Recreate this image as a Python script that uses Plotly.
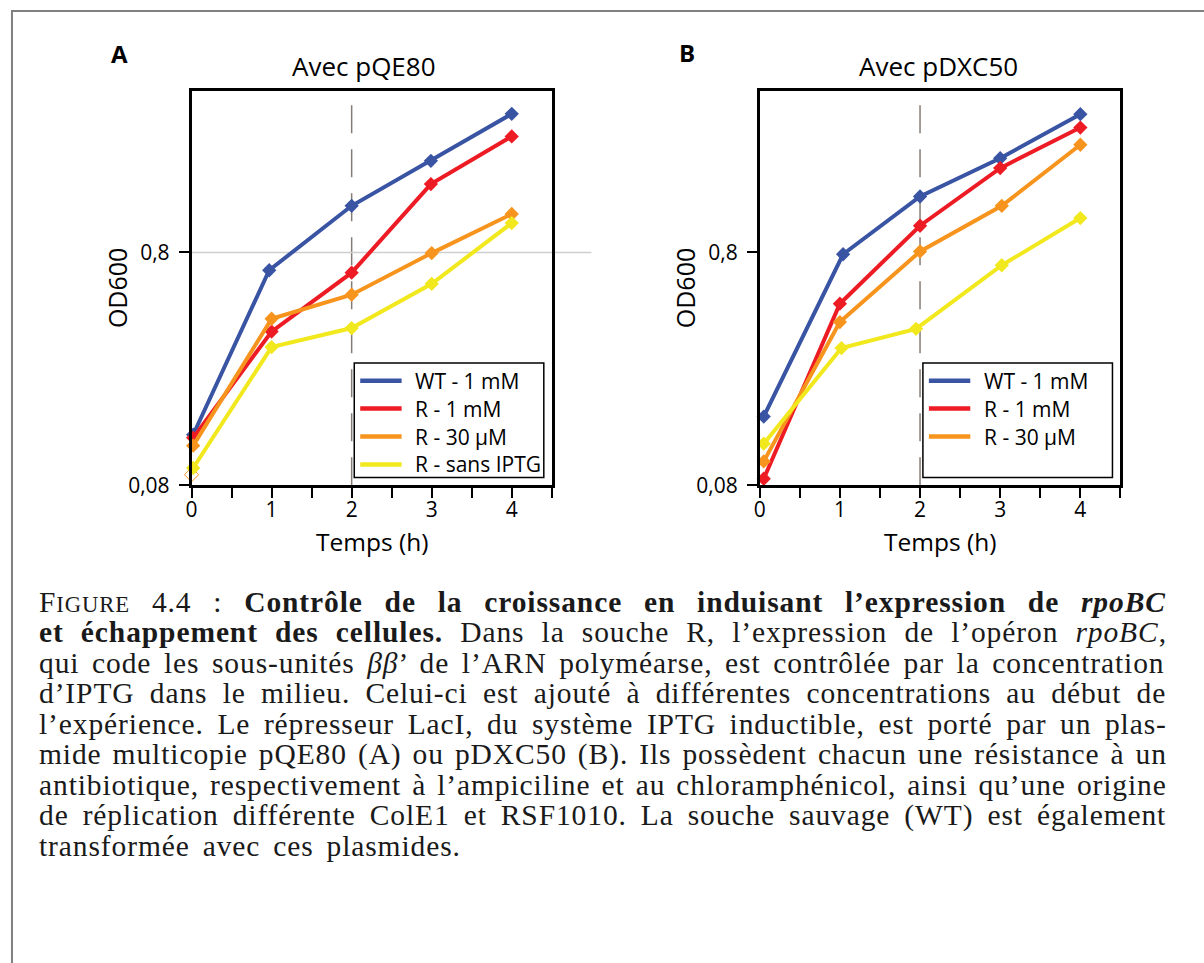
import math
import plotly.graph_objects as go

W, H = 1204, 963

# ---------------- data ----------------
series_names = ["WT - 1 mM", "R - 1 mM", "R - 30 µM", "R - sans IPTG"]
series_colors = ["#3a54a4", "#ed1c24", "#f7941d", "#f2e81e"]

# Panel A : avec pQE80
a_time_wt = [0.02, 0.97, 2.0, 2.99, 4.0]
a_od_wt = [0.132, 0.671, 1.269, 1.98, 3.15]
a_time_r1 = [0.02, 1.0, 2.0, 2.99, 4.0]
a_od_r1 = [0.128, 0.366, 0.655, 1.573, 2.52]
a_time_r30 = [0.02, 1.0, 2.0, 3.0, 4.0]
a_od_r30 = [0.1185, 0.4155, 0.527, 0.795, 1.17]
a_time_r0 = [0.02, 1.0, 2.0, 3.0, 4.0]
a_od_r0 = [0.095, 0.314, 0.379, 0.587, 1.07]
a_open_time = [0.0]
a_open_od = [0.0889]

# Panel B : avec pDXC50
b_time_wt = [0.05, 1.04, 2.0, 3.0, 4.0]
b_od_wt = [0.158, 0.786, 1.391, 2.03, 3.14]
b_time_r1 = [0.05, 1.0, 2.0, 3.0, 4.0]
b_od_r1 = [0.0854, 0.482, 1.042, 1.842, 2.75]
b_time_r30 = [0.05, 1.0, 2.0, 3.02, 4.0]
b_od_r30 = [0.1014, 0.402, 0.808, 1.269, 2.32]
b_time_r0 = [0.05, 1.02, 1.95, 3.02, 4.0]
b_od_r0 = [0.1208, 0.311, 0.376, 0.705, 1.124]

x_tick_vals = [0, 0.5, 1, 1.5, 2, 2.5, 3, 3.5, 4, 4.5]
x_tick_text = ["0", "", "1", "", "2", "", "3", "", "4", ""]
y_tick_vals = [0.08, 0.8]
y_tick_text = ["0,08", "0,8"]
x_range = [0, 4.5]
y_range = [0.08, 3.95]
induction_time = 2
grid_value = 0.8

panel_titles = ["Avec pQE80", "Avec pDXC50"]
panel_letters = ["A", "B"]
x_title = "Temps (h)"
y_title = "OD600"

caption_lines = [
    [("F", "r"), ("IGURE", "sc"), (" 4.4 : ", "r"),
     ("Contrôle de la croissance en induisant l’expression de ", "b"), ("rpoBC", "bi")],
    [("et échappement des cellules.", "b"), (" Dans la souche R, l’expression de l’opéron ", "r"),
     ("rpoBC", "i"), (",", "r")],
    [("qui code les sous-unités ", "r"), ("ββ", "i"),
     ("’ de l’ARN polyméarse, est contrôlée par la concentration", "r")],
    [("d’IPTG dans le milieu. Celui-ci est ajouté à différentes concentrations au début de", "r")],
    [("l’expérience. Le répresseur LacI, du système IPTG inductible, est porté par un plas-", "r")],
    [("mide multicopie pQE80 (A) ou pDXC50 (B). Ils possèdent chacun une résistance à un", "r")],
    [("antibiotique, respectivement à l’ampiciline et au chloramphénicol, ainsi qu’une origine", "r")],
    [("de réplication différente ColE1 et RSF1010. La souche sauvage (WT) est également", "r")],
    [("transformée avec ces plasmides.", "r")],
]

# ---------------- helpers ----------------
KY = 1.013  # vertical placement factor


def px(v):
    return v / W


def py(v):
    return 1 - v * KY / H


SANS = "Open Sans"
SERIF = "Liberation Serif"

# Times / Liberation Serif advance widths (1/1000 em)
TR = {" ": 250, "!": 333, "(": 333, ")": 333, ",": 250, "-": 333, ".": 250, ":": 278, "’": 333,
      "A": 722, "B": 667, "C": 667, "D": 722, "E": 611, "F": 556, "G": 722, "H": 722, "I": 333,
      "J": 389, "K": 722, "L": 611, "M": 889, "N": 722, "O": 722, "P": 556, "Q": 722, "R": 667,
      "S": 556, "T": 611, "U": 722, "V": 722, "W": 944, "X": 722, "Y": 722, "Z": 611,
      "a": 444, "b": 500, "c": 444, "d": 500, "e": 444, "f": 333, "g": 500, "h": 500, "i": 278,
      "j": 278, "k": 500, "l": 278, "m": 778, "n": 500, "o": 500, "p": 500, "q": 500, "r": 333,
      "s": 389, "t": 278, "u": 500, "v": 500, "w": 722, "x": 500, "y": 500, "z": 444, "β": 500}
for d in "0123456789":
    TR[d] = 500
TB = dict(TR)
TB.update({":": 333, "C": 722, "a": 500, "b": 556, "d": 556, "h": 556, "j": 333, "k": 556,
           "m": 833, "n": 556, "p": 556, "q": 556, "r": 444, "t": 333, "u": 556})
TI = dict(TR)
TI.update({"a": 500, "r": 389, "B": 611, "C": 667})
TBI = dict(TR)
TBI.update({"r": 389, "B": 667, "C": 667})
BASE = {"é": "e", "è": "e", "ê": "e", "à": "a", "â": "a", "ô": "o", "ç": "c", "î": "i", "û": "u"}

CAP_FS = 29.5
SC_FS = 22.7
LETTER_SP = 0.9
CAP_X0, CAP_X1 = 33, 1160
LAST_LINE_W = 421
CAP_BASE0, CAP_STEP = 612.0, 30.6


def seg_width(text, style):
    table = {"r": TR, "sc": TR, "b": TB, "i": TI, "bi": TBI}[style]
    size = SC_FS if style == "sc" else CAP_FS
    return sum(table.get(BASE.get(c, c), 500) for c in text) * size / 1000.0


def seg_html(text, style):
    if style == "b":
        return "<b>" + text + "</b>"
    if style == "i":
        return "<i>" + text + "</i>"
    if style == "bi":
        return "<b><i>" + text + "</i></b>"
    if style == "sc":
        return "<span style='font-size:%spx'>%s</span>" % (SC_FS, text)
    return text


fig = go.Figure()

panels = [
    dict(xa="x", ya="y", xdom=(186.5, 548.5),
         series=[(a_time_wt, a_od_wt), (a_time_r1, a_od_r1), (a_time_r30, a_od_r30), (a_time_r0, a_od_r0)],
         legend_n=4, legend_xy=(350.0, 363.3), title_x=360, letter_xy=(114, 54)),
    dict(xa="x2", ya="y2", xdom=(757.5, 1120.0),
         series=[(b_time_wt, b_od_wt), (b_time_r1, b_od_r1), (b_time_r30, b_od_r30), (b_time_r0, b_od_r0)],
         legend_n=3, legend_xy=(921.5, 363.3), title_x=937, letter_xy=(684, 53)),
]
Y_TOP, Y_BOT = 91.0, 485.7

# hollow marker (panel A)
fig.add_trace(go.Scatter(x=a_open_time, y=a_open_od, mode="markers", xaxis="x", yaxis="y",
                         marker=dict(symbol="diamond-open", size=11, color=series_colors[2],
                                     line=dict(width=1, color=series_colors[2])),
                         showlegend=False, cliponaxis=False, hoverinfo="skip"))

shapes, annotations = [], []
layout_axes = {}
for idx, p in enumerate(panels):
    for (xs, ys), col, name in zip(p["series"], series_colors, series_names):
        fig.add_trace(go.Scatter(x=xs, y=ys, mode="lines+markers", name=name,
                                 xaxis=p["xa"], yaxis=p["ya"],
                                 line=dict(color=col, width=4),
                                 marker=dict(symbol="diamond", size=11, color=col),
                                 showlegend=False, cliponaxis=False))
    xk = "xaxis" + p["xa"][1:]
    yk = "yaxis" + p["ya"][1:]
    layout_axes[xk] = dict(domain=[px(p["xdom"][0]), px(p["xdom"][1])], range=x_range,
                           anchor=p["ya"], tickmode="array", tickvals=x_tick_vals, ticktext=x_tick_text,
                           ticks="outside", ticklen=10, tickwidth=2, tickcolor="black",
                           showline=True, linewidth=2.5, linecolor="black", mirror=True,
                           showgrid=False, zeroline=False, ticklabelstandoff=-6,
                           tickfont=dict(family=SANS, size=21, color="black"))
    layout_axes[yk] = dict(domain=[py(Y_BOT), py(Y_TOP)], type="log",
                           range=[math.log10(y_range[0]), math.log10(y_range[1])],
                           anchor=p["xa"], tickmode="array", tickvals=y_tick_vals, ticktext=y_tick_text,
                           ticks="outside", ticklen=10, tickwidth=2, tickcolor="black",
                           showline=True, linewidth=2.5, linecolor="black", mirror=True,
                           showgrid=False, zeroline=False, ticklabelstandoff=5,
                           tickfont=dict(family=SANS, size=21, color="black"))
    # induction time dashed line
    shapes.append(dict(type="line", xref=p["xa"], yref=p["ya"] + " domain",
                       x0=induction_time, x1=induction_time, y0=0, y1=1, layer="below",
                       line=dict(color="#877c74", width=1.5, dash="28px,16px")))
    # titles and labels
    cx = (p["xdom"][0] + p["xdom"][1]) / 2
    annotations.append(dict(text=panel_titles[idx], x=px(p["title_x"]), y=py(66),
                            xref="paper", yref="paper", showarrow=False, xanchor="center", yanchor="middle",
                            font=dict(family=SANS, size=26, color="black")))
    annotations.append(dict(text="<b>%s</b>" % panel_letters[idx],
                            x=px(p["letter_xy"][0]), y=py(p["letter_xy"][1]),
                            xref="paper", yref="paper", showarrow=False, xanchor="center", yanchor="middle",
                            font=dict(family=SANS, size=24, color="black")))
    annotations.append(dict(text=x_title, x=px(cx), y=py(542), xref="paper", yref="paper",
                            showarrow=False, xanchor="center", yanchor="middle",
                            font=dict(family=SANS, size=24.5, color="black")))
    annotations.append(dict(text=y_title, x=px(p["xdom"][0] - 75), y=py((Y_TOP + Y_BOT) / 2),
                            xref="paper", yref="paper", showarrow=False, textangle=-90,
                            xanchor="center", yanchor="middle",
                            font=dict(family=SANS, size=25, color="black")))
    # legend box
    lx, ly = p["legend_xy"]
    shapes.append(dict(type="rect", xref="paper", yref="paper", x0=px(lx), x1=px(lx + 190.5),
                       y0=py(ly), y1=py(ly + 114.4), layer="above", fillcolor="white",
                       line=dict(color="black", width=1.5)))
    for i in range(p["legend_n"]):
        ry = ly + 17.7 + i * 27.9
        shapes.append(dict(type="line", xref="paper", yref="paper", x0=px(lx + 6), x1=px(lx + 47.6),
                           y0=py(ry), y1=py(ry), layer="above",
                           line=dict(color=series_colors[i], width=4.5)))
        annotations.append(dict(text=series_names[i], x=px(lx + 59), y=py(ry), xref="paper", yref="paper",
                                showarrow=False, xanchor="left", yanchor="middle", align="left",
                                font=dict(family=SANS, size=21, color="black")))

# grid line at 0.8 in panel A (extends past the frame)
ylog0, ylog1 = math.log10(y_range[0]), math.log10(y_range[1])
gfrac = (math.log10(grid_value) - ylog0) / (ylog1 - ylog0)
shapes.append(dict(type="line", xref="x domain", yref="y domain", x0=0, x1=1.11, y0=gfrac, y1=gfrac,
                   layer="below", line=dict(color="#cfcfcf", width=1.5)))

# page frame
shapes.append(dict(type="path", xref="paper", yref="paper",
                   path="M %f,%f L %f,%f L %f,%f" % (px(6), -0.02, px(6), py(11), px(W + 5), py(11)),
                   line=dict(color="#808080", width=2)))

# caption (justified lines)
for k, segs in enumerate(caption_lines):
    full = "".join(t for t, _ in segs)
    natural = sum(seg_width(t, s) for t, s in segs) + (len(full) - 1) * LETTER_SP
    nsp = full.count(" ")
    target = (CAP_X1 - CAP_X0) if k < len(caption_lines) - 1 else LAST_LINE_W
    ws = (target - natural) / nsp if nsp else 0
    html = "".join(seg_html(t, s) for t, s in segs)
    html = "<span style='letter-spacing:%.2fpx;word-spacing:%.2fpx'>%s</span>" % (LETTER_SP, ws, html)
    base = CAP_BASE0 + k * CAP_STEP
    annotations.append(dict(text=html, x=px(CAP_X0 - 2), y=py(base - 0.3375 * CAP_FS),
                            xref="paper", yref="paper", showarrow=False, xanchor="left", yanchor="middle",
                            align="left", font=dict(family=SERIF, size=CAP_FS, color="#1a1a1a")))

fig.update_layout(width=W, height=H, margin=dict(l=0, r=0, t=0, b=0),
                  paper_bgcolor="white", plot_bgcolor="white", showlegend=False,
                  shapes=shapes, annotations=annotations, **layout_axes)

fig.write_html("out.html", config={"displayModeBar": False},
               post_script=("document.documentElement.style.margin='0';"
                            "document.documentElement.style.overflow='hidden';"
                            "document.body.style.margin='0';"
                            "document.body.style.overflow='hidden';"))
